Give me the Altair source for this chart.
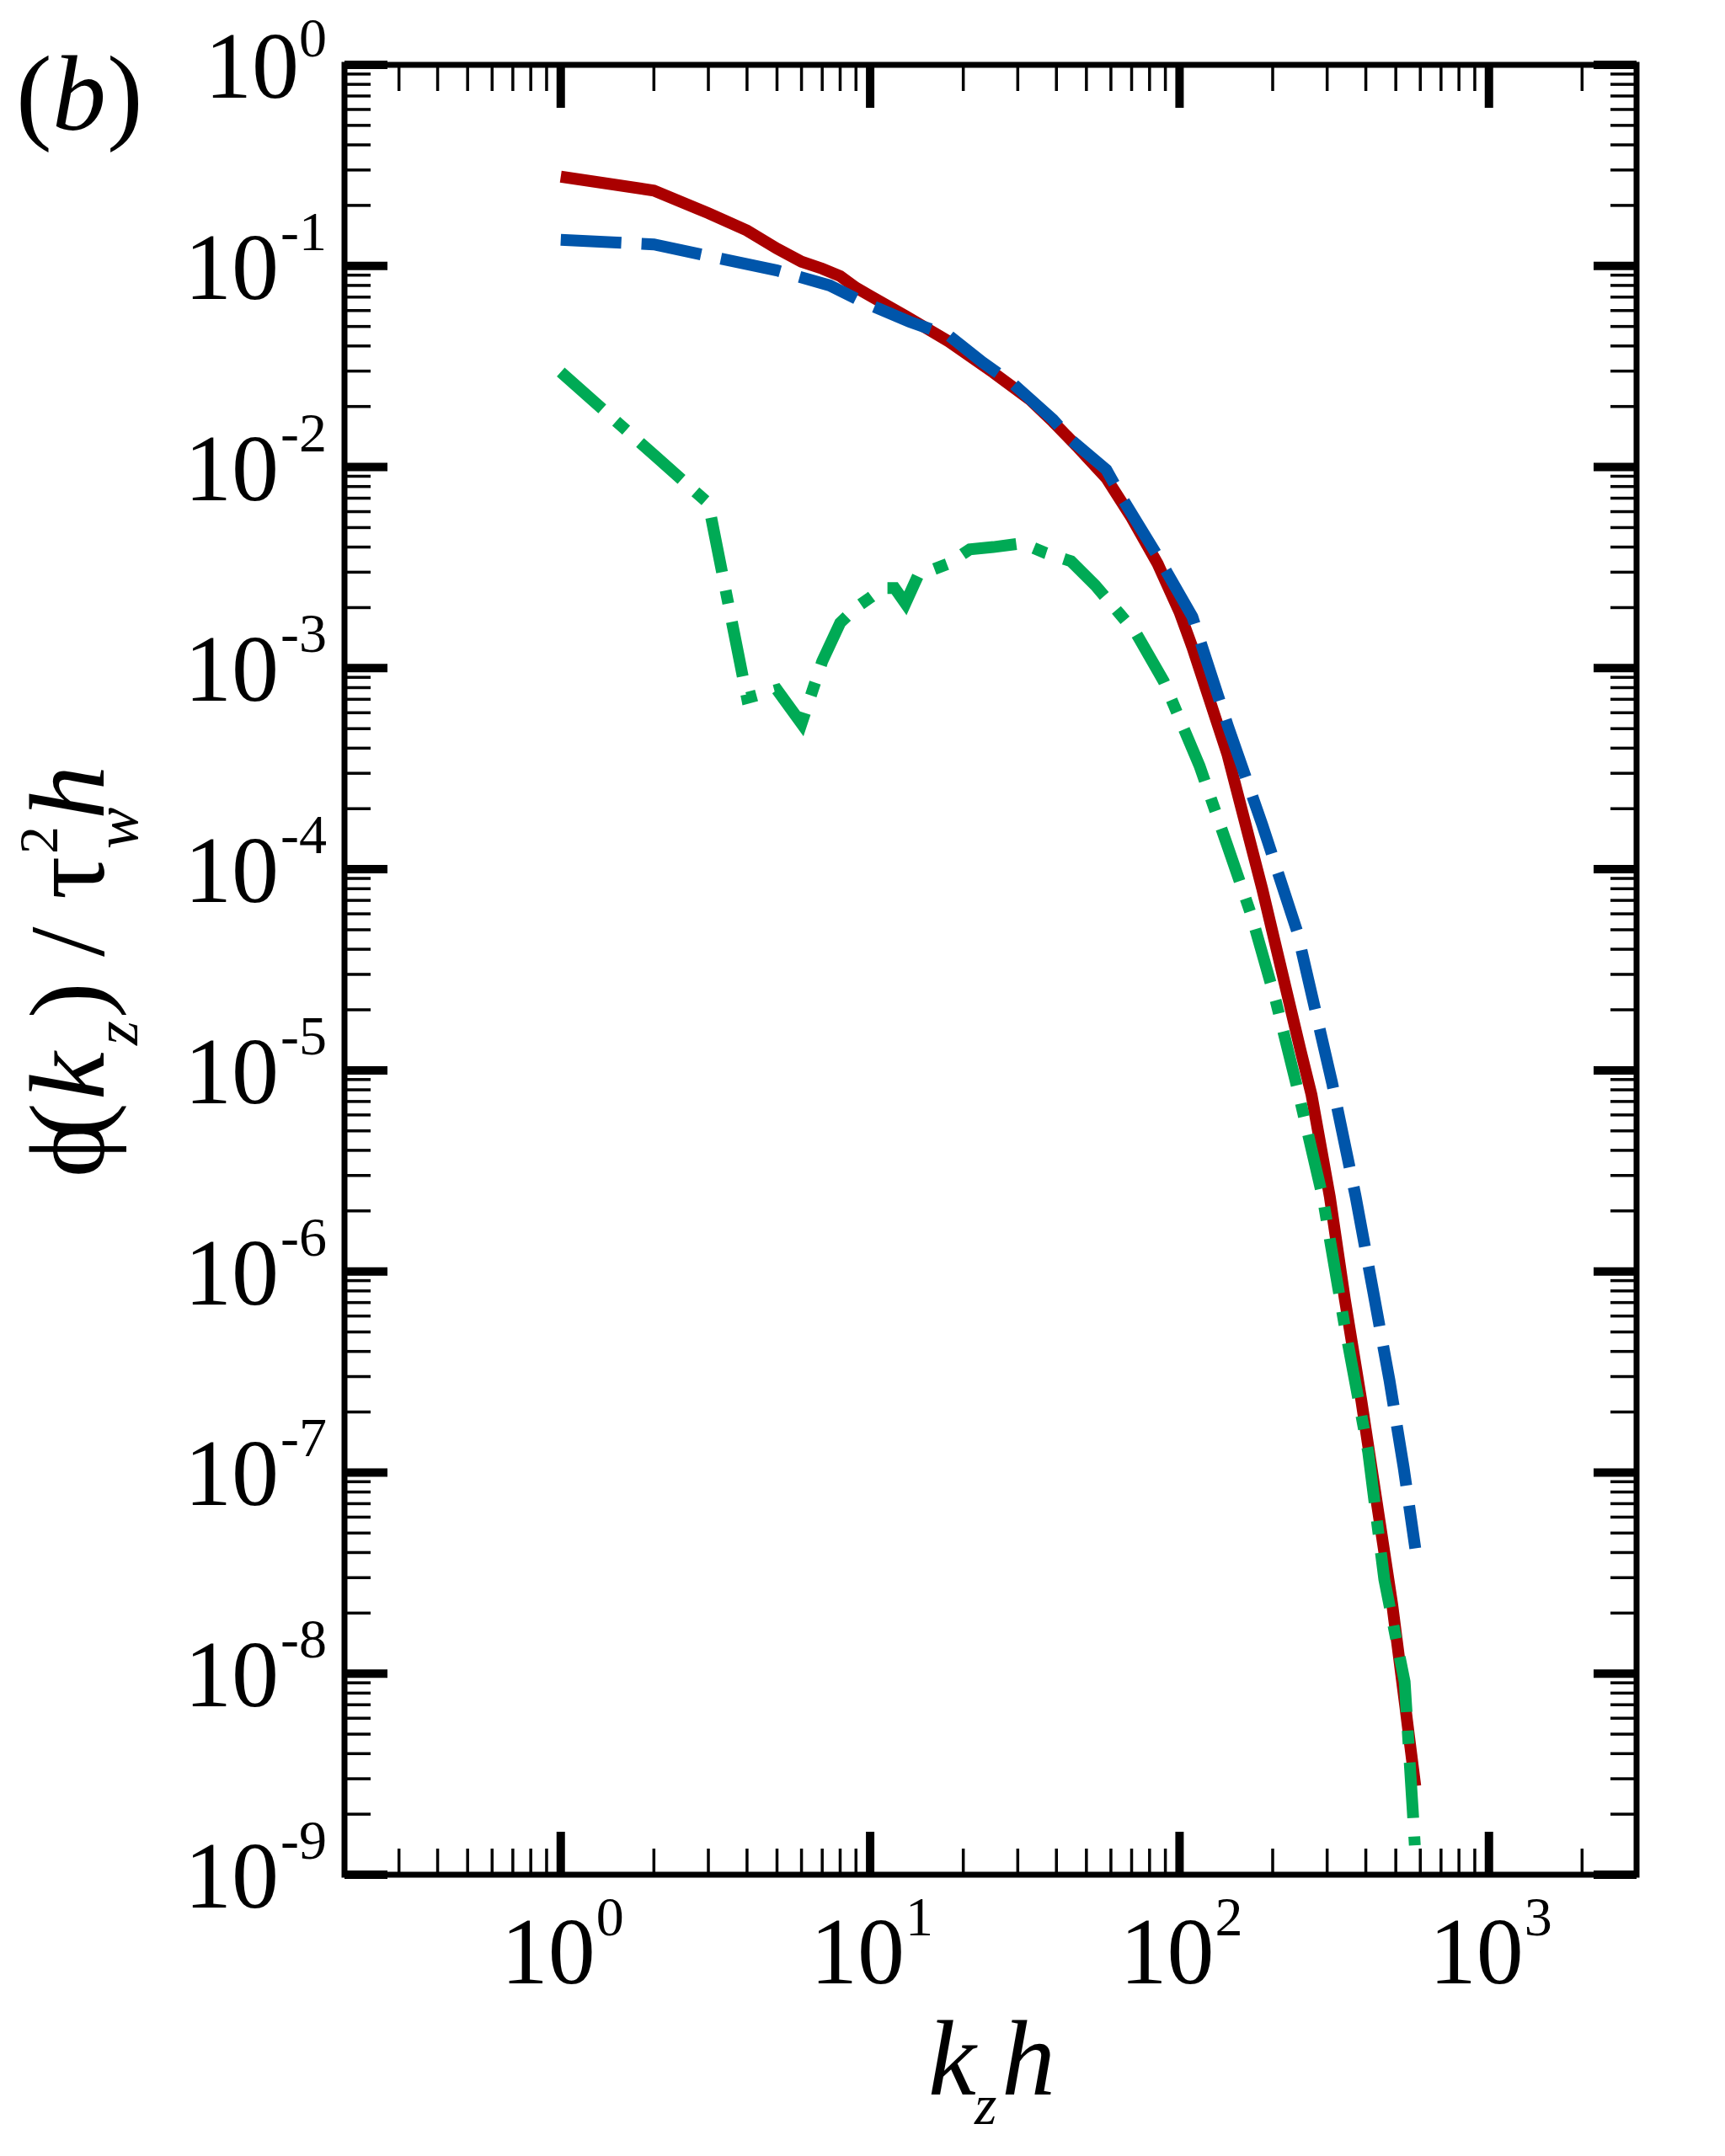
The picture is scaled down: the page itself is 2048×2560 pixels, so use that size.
import altair as alt
import pandas as pd

# ---------------- data ----------------
red_kz = [1, 2, 3, 4, 5, 6, 7, 8, 9, 10, 13, 18, 25, 33, 39, 47, 58, 70, 85, 100,
          110, 143, 185, 246, 267, 306, 342, 387, 434, 487, 537, 578]
red_phi = [0.278, 0.237, 0.183, 0.150, 0.122, 0.105, 0.097, 0.089, 0.078, 0.071,
           0.0565, 0.042, 0.0295, 0.0215, 0.0168, 0.0125, 0.0088, 0.0056, 0.0033,
           0.0019, 0.00127, 0.00037, 8.0e-5, 1.26e-5, 7.56e-6, 2.35e-6, 7.3e-7,
           2.27e-7, 7.1e-8, 2.2e-8, 6.8e-9, 2.76e-9]

blue_kz = [1, 2, 3, 5, 7.4, 9.4, 13.4, 18, 23, 29, 39, 45, 58, 66, 85, 110, 143,
           185, 240, 311, 371, 421, 477, 530, 578]
blue_phi = [0.135, 0.128, 0.112, 0.095, 0.080, 0.0666, 0.0528, 0.045, 0.0333,
            0.0259, 0.0172, 0.0135, 0.0097, 0.0068, 0.0036, 0.0018, 0.00052,
            0.000167, 4.9e-5, 8.7e-6, 2.35e-6, 8.2e-7, 2.87e-7, 1.06e-7, 4.2e-8]

green_kz = [1, 2, 3, 4, 5, 6, 7, 8, 9, 10, 11, 12, 13, 14.3, 18, 21, 25, 31, 37,
            44.6, 53.4, 63.9, 72.6, 88.9, 116, 143, 171, 205, 241, 290, 341, 407,
            459, 534, 567, 576]
green_phi = [0.0297, 0.0115, 0.0066, 0.00071, 0.00078, 0.00053, 0.00108, 0.00168,
             0.0020, 0.00224, 0.0025, 0.0025, 0.0021, 0.0029, 0.00332, 0.0039,
             0.0040, 0.00418, 0.00373, 0.0034, 0.00258, 0.00187, 0.00148, 0.00086,
             0.000327, 0.00013, 5.85e-5, 2.19e-5, 8.0e-6, 2.35e-6, 5.46e-7,
             1.27e-7, 2.94e-8, 9.1e-9, 2.1e-9, 1.4e-9]

x_major = [1, 10, 100, 1000]
x_major_exp = ["0", "1", "2", "3"]
x_minor = [0.3, 0.4, 0.5, 0.6, 0.7, 0.8, 0.9,
           2, 3, 4, 5, 6, 7, 8, 9,
           20, 30, 40, 50, 60, 70, 80, 90,
           200, 300, 400, 500, 600, 700, 800, 900,
           2000]
y_major = [1, 1e-1, 1e-2, 1e-3, 1e-4, 1e-5, 1e-6, 1e-7, 1e-8, 1e-9]
y_major_exp = ["0", "-1", "-2", "-3", "-4", "-5", "-6", "-7", "-8", "-9"]
y_minor = [m * 10.0 ** (-n) for n in range(1, 10) for m in range(2, 10)]

# ---------------- layout / style ----------------
W, H = 1534, 2149
F = "Liberation Serif"
RED, BLUE, GREEN = "#aa0000", "#0055aa", "#00aa55"

xs = alt.Scale(type="log", domain=[0.2, 3000], nice=False)
ys = alt.Scale(type="log", domain=[1e-9, 1], nice=False)


def curve(kz, phi, color, dash=None):
    df = pd.DataFrame({"kz": kz, "phi": phi})
    props = dict(color=color, strokeWidth=14, strokeCap="butt",
                 strokeJoin="miter", clip=True)
    if dash:
        props["strokeDash"] = dash
    return alt.Chart(df).mark_line(**props).encode(
        x=alt.X("kz:Q", scale=xs, axis=None),
        y=alt.Y("phi:Q", scale=ys, axis=None),
    )


def xticks(vals, width, length, side):
    df = pd.DataFrame({"v": vals})
    if side == "bottom":
        y0, y1 = H, H - length
    else:
        y0, y1 = 0, length
    return alt.Chart(df).mark_rule(color="black", strokeWidth=width,
                                   strokeCap="butt").encode(
        x=alt.X("v:Q", scale=xs, axis=None),
        y=alt.value(y0), y2=alt.value(y1))


def yticks(vals, width, length, side):
    df = pd.DataFrame({"v": vals})
    if side == "left":
        x0, x1 = 0, length
    else:
        x0, x1 = W, W - length
    return alt.Chart(df).mark_rule(color="black", strokeWidth=width,
                                   strokeCap="butt").encode(
        y=alt.Y("v:Q", scale=ys, axis=None),
        x=alt.value(x0), x2=alt.value(x1))


def txt(s, x, y, size=128, italic=False, angle=0):
    return alt.Chart(pd.DataFrame({"t": [s]})).mark_text(
        font=F, fontSize=size, fontStyle="italic" if italic else "normal",
        align="left", baseline="alphabetic", angle=angle, color="black"
    ).encode(text="t:N", x=alt.value(x), y=alt.value(y))


layers = []
layers.append(curve(red_kz, red_phi, RED))
layers.append(curve(blue_kz, blue_phi, BLUE, [72, 24]))
layers.append(curve(green_kz, green_phi, GREEN, [66, 22, 16, 22]))

# ticks on all four sides, pointing inward
layers += [xticks(x_major, 10, 51, "bottom"), xticks(x_major, 10, 51, "top"),
           xticks(x_minor, 3.5, 31, "bottom"), xticks(x_minor, 3.5, 31, "top"),
           yticks(y_major, 10, 51, "left"), yticks(y_major, 10, 51, "right"),
           yticks(y_minor, 3.5, 31, "left"), yticks(y_minor, 3.5, 31, "right")]

# x tick labels 10^n
xl = pd.DataFrame({"v": x_major, "e": x_major_exp, "b": ["10"] * len(x_major)})
layers.append(alt.Chart(xl).mark_text(font=F, fontSize=112, align="right",
                                      baseline="alphabetic", dx=41).encode(
    x=alt.X("v:Q", scale=xs, axis=None), y=alt.value(H + 129), text="b:N"))
layers.append(alt.Chart(xl).mark_text(font=F, fontSize=66, align="left",
                                      baseline="alphabetic", dx=42).encode(
    x=alt.X("v:Q", scale=xs, axis=None), y=alt.value(H + 72), text="e:N"))

# y tick labels 10^-n
yl = pd.DataFrame({"v": y_major, "e": y_major_exp, "b": ["10"] * len(y_major)})
layers.append(alt.Chart(yl).transform_filter(alt.datum.e == "0").mark_text(
    font=F, fontSize=112, align="right", baseline="alphabetic", dy=39).encode(
    y=alt.Y("v:Q", scale=ys, axis=None), x=alt.value(-54), text="b:N"))
layers.append(alt.Chart(yl).transform_filter(alt.datum.e != "0").mark_text(
    font=F, fontSize=112, align="right", baseline="alphabetic", dy=39).encode(
    y=alt.Y("v:Q", scale=ys, axis=None), x=alt.value(-78), text="b:N"))
layers.append(alt.Chart(yl).transform_filter(alt.datum.e == "0").mark_text(
    font=F, fontSize=66, align="right", baseline="alphabetic", dy=-10).encode(
    y=alt.Y("v:Q", scale=ys, axis=None), x=alt.value(-21), text="e:N"))
layers.append(alt.Chart(yl).transform_filter(alt.datum.e != "0").mark_text(
    font=F, fontSize=66, align="right", baseline="alphabetic", dy=-19).encode(
    y=alt.Y("v:Q", scale=ys, axis=None), x=alt.value(-21), text="e:N"))

# panel label (b)
layers += [txt("(", -390, 77), txt("b", -347, 77, italic=True), txt(")", -282, 77)]

# x title  k_z h
layers += [txt("k", 693, 2410, italic=True),
           txt("z", 748, 2445, size=68, italic=True),
           txt("h", 780, 2410, italic=True)]

# y title  phi(k_z) / tau_w^2 h  (rotated, reading upward)
XM, XS, XP = -286, -246, -341
layers += [txt("\u03d5", XM, 1321, angle=270),
           txt("(", XM, 1275, angle=270),
           txt("k", XM, 1229, italic=True, angle=270),
           txt("z", XS, 1164, size=74, italic=True, angle=270),
           txt(")", XM, 1132, angle=270),
           txt("/", XM, 1059, angle=270),
           txt("\u03c4", XM, 991, angle=270),
           txt("2", XP, 937, size=66, angle=270),
           txt("w", XS, 931, size=74, italic=True, angle=270),
           txt("h", XM, 896, italic=True, angle=270)]

chart = alt.layer(*layers).properties(
    width=W, height=H,
    padding={"left": 401, "top": 69, "right": 90, "bottom": 320},
    autosize=alt.AutoSizeParams(type="none"),
).configure_view(stroke="black", strokeWidth=7)

chart.save("out.html", embed_options={"renderer": "svg", "actions": False})
